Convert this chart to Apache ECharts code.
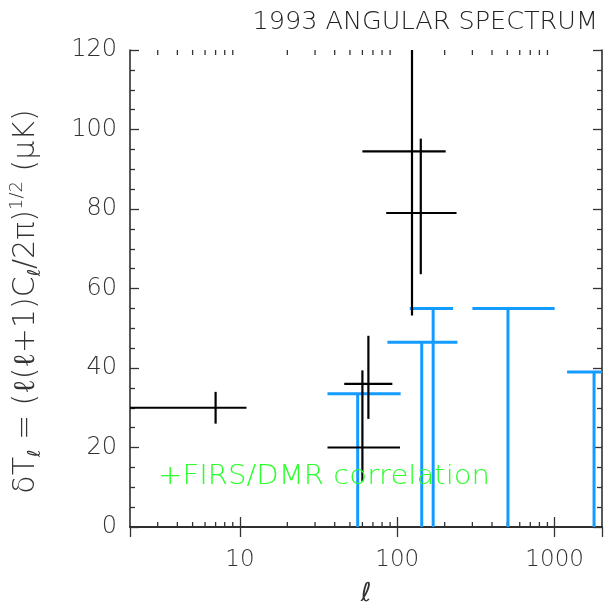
<!DOCTYPE html>
<html>
<head>
<meta charset="utf-8">
<script src="https://cdn.jsdelivr.net/npm/echarts@6/dist/echarts.min.js"></script>
<style>html,body{margin:0;padding:0;background:#fff}#c{width:604px;height:605px}</style>
</head>
<body>
<div id="c"></div>
<script>
// Detections (black crosses): centre l, l low, l high, dT, dT low, dT high
var detL    = [7,   60,  65.5, 124, 141];
var detLlo  = [2,   36,  46,   60,  85];
var detLhi  = [11,  104, 93,   203, 238];
var detT    = [30,  20,  36,   94.5, 79];
var detTlo  = [26,  11.5, 27.2, 53.2, 63.6];
var detThi  = [34,  39.4, 48.1, 136, 97.7];

// Upper limits (blue): centre l, l low, l high, limit
var limL    = [56,  143, 169, 505, 1780];
var limLlo  = [36,  86.5, 120, 300, 1200];
var limLhi  = [105, 241, 226, 1000, 2100];
var limT    = [33.5, 46.5, 55, 55, 39];

// Axis ticks
var xMinorTicks = [3,4,5,6,7,8,9,20,30,40,50,60,70,80,90,200,300,400,500,600,700,800,900];
var yTickLabels = [0,20,40,60,80,100,120];

var FONT = 'DejaVu Sans';
var detData = detL.map(function(l,i){return [l, detLlo[i], detLhi[i], detT[i], detTlo[i], detThi[i]];});
var limData = limL.map(function(l,i){return [l, limLlo[i], limLhi[i], limT[i]];});
var tickData = xMinorTicks.map(function(v){return [v, 0];});

var chart = echarts.init(document.getElementById('c'));
var axisLineStyle = {color:'#222', width:1.5};
chart.setOption({
  animation:false,
  backgroundColor:'#fff',
  title:{text:'1993 ANGULAR SPECTRUM', right:1, top:4,
    textStyle:{fontFamily:FONT, fontSize:25.5, fontWeight:200, color:'#222'}},
  grid:{left:130, right:2, top:50, bottom:78, outerBoundsMode:'none', containLabel:false},
  xAxis:[{
    type:'log', logBase:10, min:2, max:2000, position:'bottom',
    name:'ℓ', nameLocation:'middle', nameGap:54,
    nameTextStyle:{fontFamily:FONT, fontSize:26, fontStyle:'italic', fontWeight:200, color:'#333'},
    axisLine:{show:true, lineStyle:axisLineStyle},
    axisTick:{show:true, inside:true, length:10, lineStyle:{color:'#333', width:1.3}},
    axisLabel:{show:true, margin:22, fontFamily:FONT, fontSize:23, fontWeight:200, color:'#333',
      showMinLabel:false, showMaxLabel:false,
      formatter:function(v){return String(Math.round(v));}},
    splitLine:{show:false}, minorTick:{show:false}
  },{
    type:'log', logBase:10, min:2, max:2000, position:'top',
    axisLine:{show:true, lineStyle:axisLineStyle},
    axisTick:{show:true, inside:true, length:10, lineStyle:{color:'#333', width:1.3}},
    axisLabel:{show:false}, splitLine:{show:false}
  }],
  yAxis:[{
    type:'value', min:0, max:120, interval:20, position:'left',
    name:'{a|δT}{s|ℓ}{a| = (ℓ(ℓ+1)C}{s|ℓ}{a|/2π)}{p|1/2}{a| (μK)}',
    nameLocation:'middle', nameRotate:90, nameGap:86,
    nameTextStyle:{
      padding:[0, 26, 0, 0],
      rich:{
        a:{fontFamily:FONT, fontSize:30, fontWeight:200, color:'#333', lineHeight:36},
        s:{fontFamily:FONT, fontSize:18, fontStyle:'italic', fontWeight:200, color:'#333', lineHeight:17, verticalAlign:'bottom'},
        p:{fontFamily:FONT, fontSize:18, fontWeight:200, color:'#333', lineHeight:17, verticalAlign:'top'}
      }
    },
    axisLine:{show:true, lineStyle:axisLineStyle},
    axisTick:{show:true, inside:true, length:9, lineStyle:{color:'#333', width:1.3}},
    minorTick:{show:true, splitNumber:4, length:5, lineStyle:{color:'#333', width:1.3}},
    axisLabel:{margin:13, fontFamily:FONT, fontSize:24, fontWeight:200, color:'#333',
      formatter:function(v){return yTickLabels.indexOf(v)>=0 ? String(v) : '';}},
    splitLine:{show:false}
  },{
    type:'value', min:0, max:120, interval:20, position:'right',
    axisLine:{show:true, lineStyle:axisLineStyle},
    axisTick:{show:true, inside:true, length:9, lineStyle:{color:'#333', width:1.3}},
    minorTick:{show:true, splitNumber:4, length:5, lineStyle:{color:'#333', width:1.3}},
    axisLabel:{show:false}, splitLine:{show:false}
  }],
  graphic:[{
    type:'text', x:158, y:464, scaleX:1.12, z:5,
    style:{text:'+FIRS/DMR correlation', fill:'#2cff2c', font:'200 26px "DejaVu Sans"'}
  }],
  series:[{
    type:'custom', coordinateSystem:'cartesian2d', xAxisIndex:0, yAxisIndex:0,
    silent:true, z:1,
    data:tickData,
    renderItem:function(params, api){
      var v = api.value(0);
      var b = api.coord([v, 0]);
      var t = api.coord([v, 120]);
      var st = {stroke:'#333', lineWidth:1.3};
      return {type:'group', children:[
        {type:'line', shape:{x1:b[0], y1:b[1], x2:b[0], y2:b[1]-5}, style:st},
        {type:'line', shape:{x1:t[0], y1:t[1], x2:t[0], y2:t[1]+5}, style:st}
      ]};
    }
  },{
    type:'custom', coordinateSystem:'cartesian2d', xAxisIndex:0, yAxisIndex:0,
    clip:true, silent:true, z:3,
    data:limData,
    renderItem:function(params, api){
      var c = api.coord([api.value(0), api.value(3)]);
      var lo = api.coord([api.value(1), api.value(3)]);
      var hi = api.coord([api.value(2), api.value(3)]);
      var base = api.coord([api.value(0), 0]);
      var st = {stroke:'#149bff', lineWidth:3};
      return {type:'group', children:[
        {type:'line', shape:{x1:lo[0], y1:lo[1], x2:hi[0], y2:hi[1]}, style:st},
        {type:'line', shape:{x1:c[0], y1:c[1], x2:base[0], y2:base[1]}, style:st}
      ]};
    }
  },{
    type:'custom', coordinateSystem:'cartesian2d', xAxisIndex:0, yAxisIndex:0,
    clip:true, silent:true, z:4,
    data:detData,
    renderItem:function(params, api){
      var lo = api.coord([api.value(1), api.value(3)]);
      var hi = api.coord([api.value(2), api.value(3)]);
      var vlo = api.coord([api.value(0), api.value(4)]);
      var vhi = api.coord([api.value(0), api.value(5)]);
      var st = {stroke:'#000', lineWidth:2.2};
      return {type:'group', children:[
        {type:'line', shape:{x1:lo[0], y1:lo[1], x2:hi[0], y2:hi[1]}, style:st},
        {type:'line', shape:{x1:vlo[0], y1:vlo[1], x2:vhi[0], y2:vhi[1]}, style:st}
      ]};
    }
  }]
});
</script>
</body>
</html>
